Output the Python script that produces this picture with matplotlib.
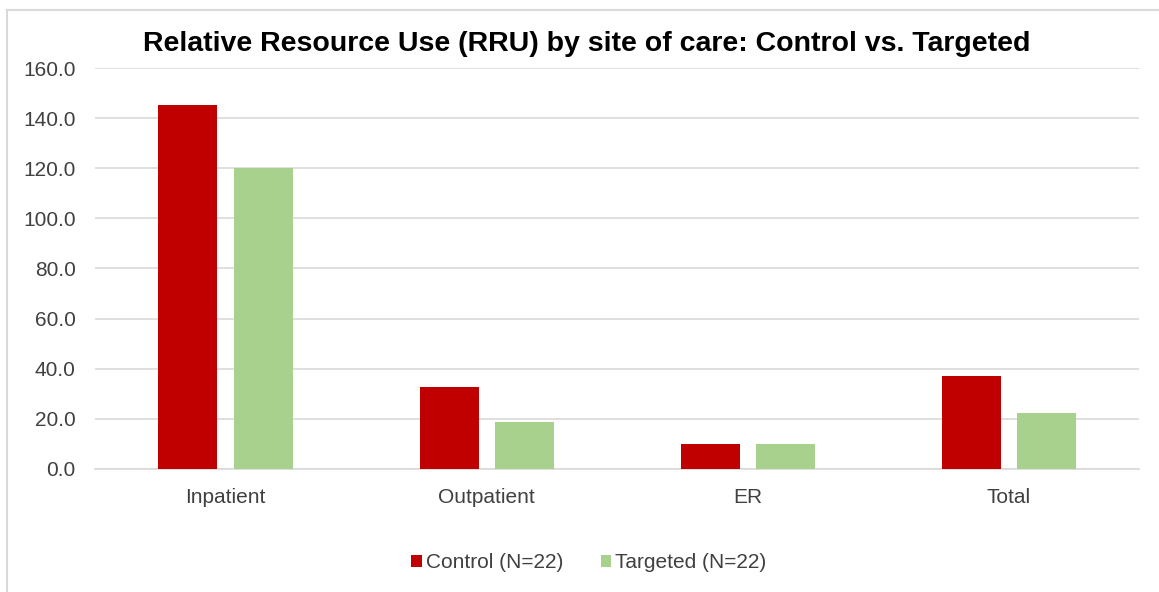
import numpy as np
import matplotlib.pyplot as plt
from matplotlib.lines import Line2D

categorias = ["Inpatient", "Outpatient", "ER", "Total"]
controle = [145.2, 32.8, 10.0, 37.1]
alvo = [120.1, 18.8, 10.0, 22.3]
series = ["Control (N=22)", "Targeted (N=22)"]
yticks = [0, 20, 40, 60, 80, 100, 120, 140, 160]

plt.rcParams['font.family'] = ['Liberation Sans', 'DejaVu Sans']

fig = plt.figure(figsize=(11.59, 5.92), dpi=100)
ax = fig.add_axes([0.082, 0.208, 0.901, 0.677])

x = np.arange(len(categorias))
w = 0.226
ax.bar(x - 0.144, controle, w, color="#C00000", label=series[0], zorder=3)
ax.bar(x + 0.144, alvo, w, color="#A9D18E", label=series[1], zorder=3)

ax.set_xlim(-0.5, len(categorias) - 0.5)
ax.set_ylim(0, 160)
ax.set_yticks(yticks)
ax.set_yticklabels(["%.1f" % v for v in yticks])
ax.set_xticks(x)
ax.set_xticklabels(categorias)
ax.tick_params(axis="both", length=0, labelsize=15, colors="#404040")
ax.tick_params(axis="x", pad=14)
ax.tick_params(axis="y", pad=14)
ax.grid(axis="y", color="#d9d9d9", linewidth=1.2, zorder=0)
for s in ["top", "right", "left"]:
    ax.spines[s].set_visible(False)
ax.spines["bottom"].set_color("#d9d9d9")
ax.spines["bottom"].set_linewidth(1.2)

fig.text(0.506, 0.926, "Relative Resource Use (RRU) by site of care: Control vs. Targeted",
         ha="center", va="center", fontsize=20.5, fontweight="bold", color="black")

fig.legend(loc="center", bbox_to_anchor=(0.508, 0.049), ncol=2, frameon=False,
           fontsize=15, handlelength=0.5, handleheight=0.5, handletextpad=0.2,
           columnspacing=1.8, labelcolor="#404040")

# moldura so em cima e na esquerda, como no recorte original
fig.lines.append(Line2D([0.006, 1.0], [0.983, 0.983], transform=fig.transFigure,
                        color="#d9d9d9", linewidth=1.5))
fig.lines.append(Line2D([0.006, 0.006], [0.0, 0.983], transform=fig.transFigure,
                        color="#d9d9d9", linewidth=1.5))

fig.savefig("out.png", dpi=100)
